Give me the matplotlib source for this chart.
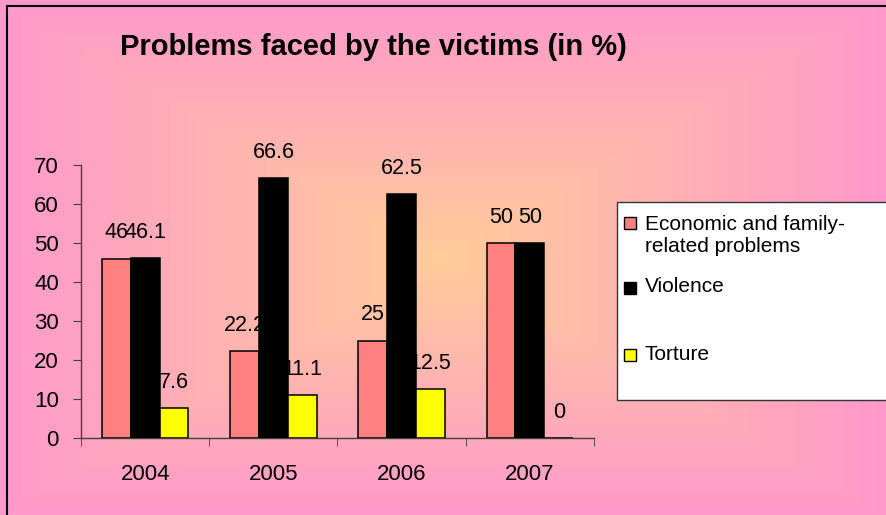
import numpy as np
import matplotlib.pyplot as plt
from matplotlib.patches import Rectangle
from matplotlib.lines import Line2D

plt.rcParams['font.family'] = ['Liberation Sans', 'DejaVu Sans']

years = ['2004', '2005', '2006', '2007']
economic = [46, 22.2, 25, 50]
violence = [46.1, 66.6, 62.5, 50]
torture = [7.6, 11.1, 12.5, 0]
series_names = ['Economic and family-\nrelated problems', 'Violence', 'Torture']
series_colors = ['#FF8080', '#000000', '#FFFF00']

W, H = 887, 515
fig = plt.figure(figsize=(W / 100, H / 100), dpi=100)

# background: centre gradient peach -> pink
bg = fig.add_axes([0, 0, 1, 1], zorder=-5)
yy, xx = np.mgrid[0:H, 0:W]
t = np.maximum(np.abs(xx - 440) / 445.0, np.abs(yy - 258) / 258.0)
t = np.clip(t, 0, 1)[..., None]
c0 = np.array([255, 204, 153]) / 255.0
c1 = np.array([255, 153, 204]) / 255.0
img = c0 * (1 - t) + c1 * t
bg.imshow(img, aspect='auto', extent=[0, W, H, 0])
bg.set_xlim(0, W)
bg.set_ylim(H, 0)
bg.axis('off')
# chart border (left and top visible)
bg.add_line(Line2D([7, 7], [6, H + 5], color='black', lw=1.5))
bg.add_line(Line2D([7, W + 5], [6, 6], color='black', lw=1.5))

# plot area
left, right, top, bottom = 81, 594, 165, 438
ax = fig.add_axes([left / W, 1 - bottom / H, (right - left) / W, (bottom - top) / H])
ax.set_facecolor('none')

x = np.arange(len(years))
w = 0.225
for i, (vals, col) in enumerate(zip([economic, violence, torture], series_colors)):
    pos = x + (i - 1) * w
    ax.bar(pos, vals, width=w, color=col, edgecolor='black', linewidth=1.1, zorder=3)
    for p, v in zip(pos, vals):
        lab = ('%g' % v)
        ax.annotate(lab, (p, v), xytext=(0, 18.5), textcoords='offset points',
                    ha='center', va='center', fontsize=15.5, zorder=2,
                    annotation_clip=False)

ax.set_xlim(-0.5, len(years) - 0.5)
ax.set_ylim(0, 70)
ax.set_yticks(range(0, 71, 10))
ax.set_xticks(x)
ax.set_xticklabels(years)
ax.set_xticks(np.arange(-0.5, len(years), 1), minor=True)
ax.tick_params(axis='x', which='major', length=0, pad=19, labelsize=16)
ax.tick_params(axis='x', which='minor', length=6, direction='out', color='#404040')
ax.tick_params(axis='y', length=6, direction='out', color='#404040', labelsize=16, pad=10)
for s in ['top', 'right']:
    ax.spines[s].set_visible(False)
for s in ['left', 'bottom']:
    ax.spines[s].set_color('#404040')
    ax.spines[s].set_linewidth(1.0)

# title
fig.text(373 / W, 1 - 47 / H, 'Problems faced by the victims (in %)',
         ha='center', va='center', fontsize=21, fontweight='bold')

# legend box
bg.add_patch(Rectangle((617, 202), 300, 198, facecolor='white',
                       edgecolor='#333333', lw=1.0, zorder=4))
leg_y = [223, 288, 355]
for name, col, yc in zip(series_names, series_colors, leg_y):
    bg.add_patch(Rectangle((624, yc - 6), 12, 12, facecolor=col,
                           edgecolor='black', lw=1.0, zorder=5))
    if '\n' in name:
        bg.text(645, yc - 8, name, ha='left', va='top', fontsize=15,
                linespacing=1.2, zorder=6)
    else:
        bg.text(645, yc - 1, name, ha='left', va='center', fontsize=15, zorder=6)

fig.savefig('out.png', dpi=100)
